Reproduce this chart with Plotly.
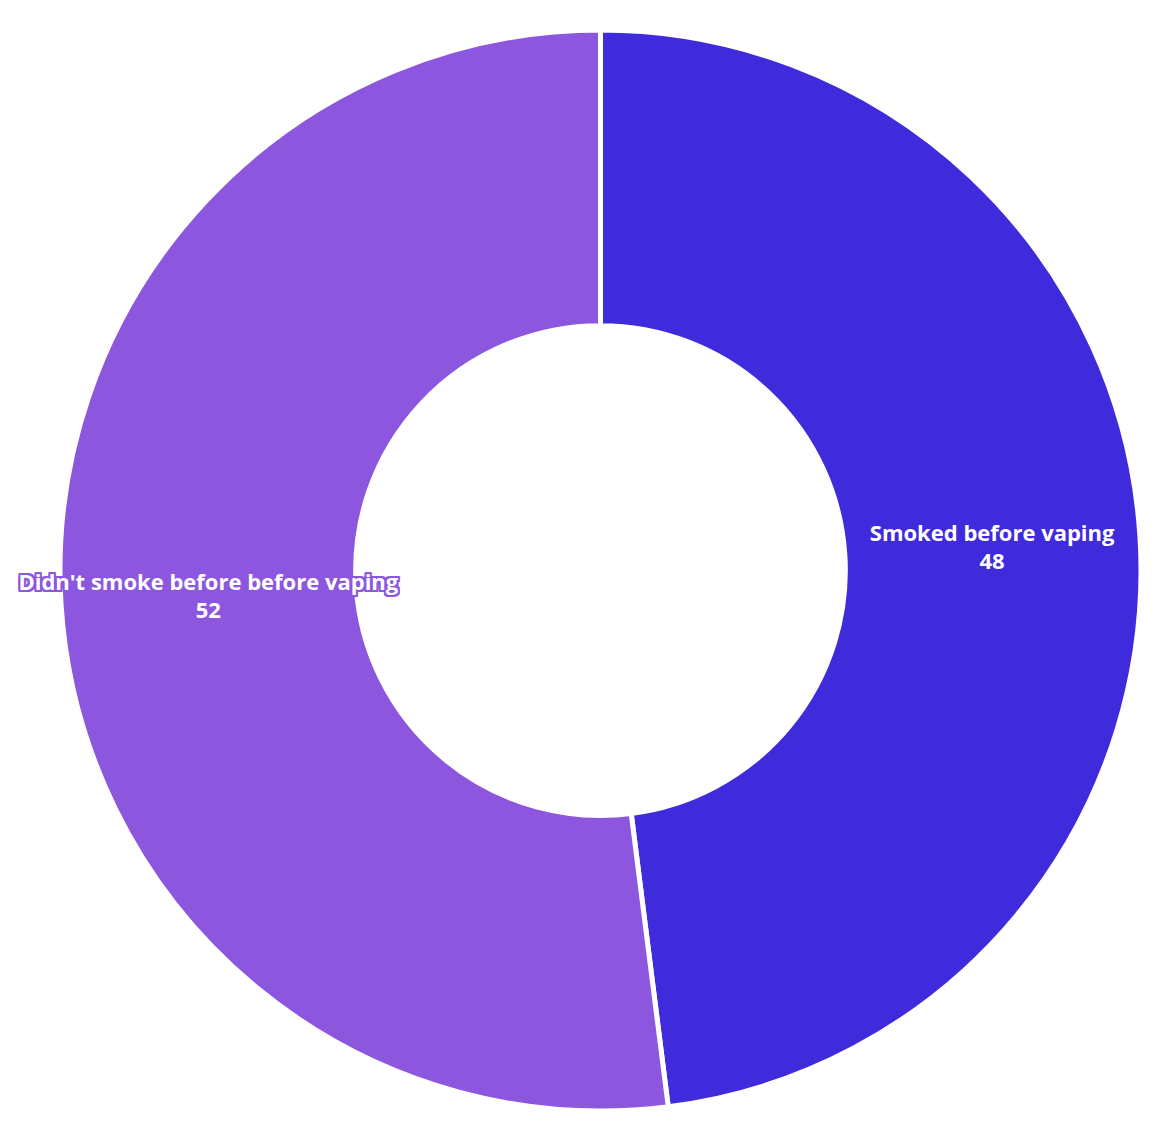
import plotly.graph_objects as go

labels = ["Smoked before vaping", "Didn't smoke before before vaping"]
values = [48, 52]
colors = ["#3F2BDC", "#8C57DE"]

def outline(c):
    return f"2px 0 0 {c}, -2px 0 0 {c}, 0 2px 0 {c}, 0 -2px 0 {c}, 2px 2px 0 {c}, -2px -2px 0 {c}, 2px -2px 0 {c}, -2px 2px 0 {c}"

fig = go.Figure(go.Pie(
    labels=labels,
    values=values,
    hole=0.453,
    sort=False,
    direction="clockwise",
    rotation=0,
    marker=dict(colors=colors, line=dict(color="white", width=5)),
    textinfo="label+value",
    textposition="inside",
    insidetextorientation="horizontal",
    textfont=dict(family="Open Sans", size=22, color="white", weight="bold",
                  shadow=["none", outline(colors[1])]),
    showlegend=False,
))
fig.update_layout(
    width=1154, height=1134,
    margin=dict(t=22, b=31, l=52, r=21),
    paper_bgcolor="white",
    uniformtext=dict(minsize=22, mode="show"),
)
fig.write_html("out.html")
